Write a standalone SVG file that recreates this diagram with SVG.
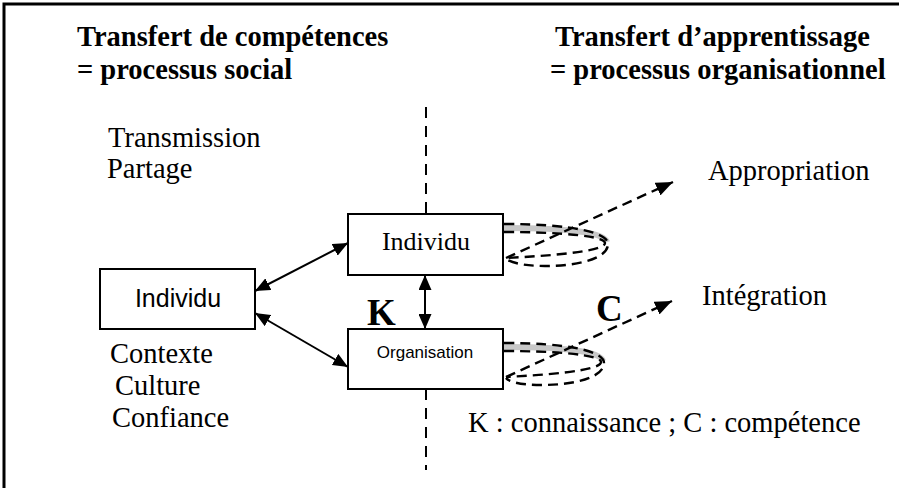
<svg xmlns="http://www.w3.org/2000/svg" width="899" height="488" viewBox="0 0 899 488">
<defs>
<style>
.serif{font-family:"Liberation Serif","Times New Roman",serif;fill:#000}
.sans{font-family:"Liberation Sans",Arial,sans-serif;fill:#000}
.t{font-size:28.5px}
.b{font-weight:bold}
.box{fill:#fff;stroke:#000;stroke-width:2}
.ln{fill:none;stroke:#000;stroke-width:2}
.dash{fill:none;stroke:#000;stroke-width:2.4;stroke-dasharray:10 6}
.gray{fill:none;stroke:#c8c8c8;stroke-width:6}
</style>
<marker id="ah" viewBox="0 0 10 10" refX="10" refY="5" markerWidth="8" markerHeight="7" orient="auto-start-reverse" markerUnits="userSpaceOnUse" preserveAspectRatio="none">
<path d="M0,0 L10,5 L0,10 z" fill="#000"/>
</marker>
<marker id="ah2" viewBox="0 0 10 10" refX="10" refY="5" markerWidth="15" markerHeight="13" orient="auto-start-reverse" markerUnits="userSpaceOnUse" preserveAspectRatio="none">
<path d="M0,0 L10,5 L0,10 z" fill="#000"/>
</marker>
<marker id="ad" viewBox="0 0 10 10" refX="10" refY="5" markerWidth="17" markerHeight="14" orient="auto" markerUnits="userSpaceOnUse" preserveAspectRatio="none">
<path d="M0,0 L10,5 L0,10 z" fill="#000"/>
</marker>
</defs>
<rect width="899" height="488" fill="#fff"/>
<path d="M4,488 L4,4 L899,4" fill="none" stroke="#000" stroke-width="3"/>

<g id="titles">
<text class="serif t b" x="77" y="46">Transfert de compétences</text>
<text class="serif t b" x="77" y="79">= processus social</text>
<text class="serif t b" x="555" y="46">Transfert d’apprentissage</text>
<text class="serif t b" x="550" y="79">= processus organisationnel</text>
</g>

<g id="labels">
<text class="serif t" x="108" y="147">Transmission</text>
<text class="serif t" x="107" y="178">Partage</text>
<text class="serif t" x="110" y="363">Contexte</text>
<text class="serif t" x="115" y="395">Culture</text>
<text class="serif t" x="112" y="427">Confiance</text>
<text class="serif t" x="708" y="180">Appropriation</text>
<text class="serif t" x="702" y="305">Intégration</text>
<text class="serif t" x="468" y="432">K : connaissance ; C : compétence</text>
<text class="serif b" font-size="37" x="367" y="325">K</text>
<text class="serif b" font-size="37" x="596" y="321">C</text>
</g>

<g id="connectors">
<path class="ln" d="M426,107 L426,214" stroke-width="2.5" stroke-dasharray="11 8"/>
<path class="ln" d="M426,389 L426,470" stroke-width="2.5" stroke-dasharray="11 8"/>
<line class="ln" x1="255" y1="291" x2="348" y2="243" marker-start="url(#ah2)" marker-end="url(#ah2)"/>
<line class="ln" x1="255" y1="313" x2="348" y2="367" marker-start="url(#ah2)" marker-end="url(#ah2)"/>
<line class="ln" x1="425" y1="275" x2="425" y2="329" marker-start="url(#ah2)" marker-end="url(#ah2)"/>
<g id="loop-top">
<path class="gray" d="M504,228 C565,228 604,232 607,242"/>
<path class="dash" d="M504,224 C570,224 608,232 608,244 C608,258 580,266 545,266 C522,266 510,262 506,259"/>
<path class="dash" d="M504,232 C560,232 605,236 605,243 C605,252 545,256 506,258"/>
<line class="dash" x1="506" y1="258" x2="673" y2="182" marker-end="url(#ad)"/>
</g>
<g id="loop-bottom">
<path class="gray" d="M504,347 C563,347 600,351 603,361"/>
<path class="dash" d="M504,343 C568,343 604,351 604,363 C604,377 576,385 541,385 C518,385 508,381 506,378"/>
<path class="dash" d="M504,351 C558,351 601,355 601,362 C601,371 543,375 506,377"/>
<line class="dash" x1="506" y1="377" x2="672" y2="301" marker-end="url(#ad)"/>
</g>
</g>

<g id="node-individu-left">
<rect class="box" x="100" y="269" width="155" height="60"/>
<text class="sans" font-size="25" x="178" y="307" text-anchor="middle">Individu</text>
</g>
<g id="node-individu">
<rect class="box" x="348" y="214" width="155" height="61"/>
<text class="serif" font-size="26" x="426" y="250" text-anchor="middle">Individu</text>
</g>
<g id="node-organisation">
<rect class="box" x="348" y="329" width="155" height="60"/>
<text class="sans" font-size="17" x="425" y="358" text-anchor="middle">Organisation</text>
</g>
</svg>
